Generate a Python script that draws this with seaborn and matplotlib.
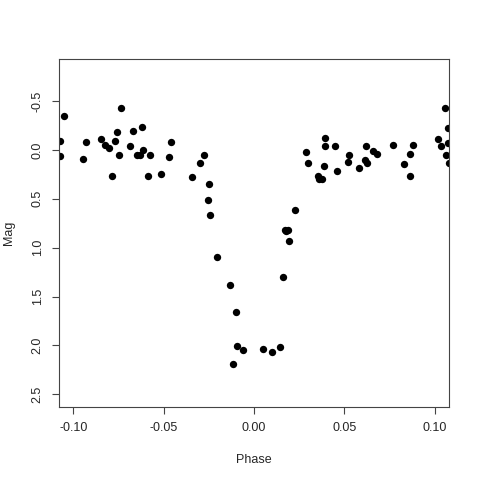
import pandas as pd
import seaborn as sns
import matplotlib
matplotlib.use('Agg')
import matplotlib.pyplot as plt

# phase / magnitude
phase = [-0.1072, -0.1072, -0.1050, -0.0945, -0.0928, -0.0849, -0.0825, -0.0805,
         -0.0785, -0.0768, -0.0761, -0.0748, -0.0736, -0.0685, -0.0669, -0.0648,
         -0.0634, -0.0620, -0.0615, -0.0586, -0.0575, -0.0514, -0.0470, -0.0457,
         -0.0346, -0.0298, -0.0278, -0.0247, -0.0252, -0.0245, -0.0206, -0.0131,
         -0.0101, -0.0096, -0.0059, -0.0116, 0.0050, 0.0101, 0.0144, 0.0162,
         0.0170, 0.0177, 0.0190, 0.0192, 0.0227, 0.0289, 0.0298, 0.0394,
         0.0394, 0.0388, 0.0355, 0.0359, 0.0377, 0.0451, 0.0459, 0.0525,
         0.0521, 0.0582, 0.0620, 0.0613, 0.0626, 0.0661, 0.0683, 0.0768,
         0.0829, 0.0862, 0.0862, 0.0882, 0.1020, 0.1033, 0.1059, 0.1076,
         0.1074, 0.1066, 0.1079]
mag = [-0.094, 0.058, -0.352, 0.091, -0.084, -0.112, -0.048, -0.017,
       0.267, -0.094, -0.183, 0.051, -0.426, -0.041, -0.190, 0.048,
       0.048, -0.240, -0.003, 0.264, 0.051, 0.246, 0.074, -0.081,
       0.271, 0.132, 0.051, 0.352, 0.514, 0.669, 1.098, 1.386,
       1.663, 2.011, 2.046, 2.188, 2.042, 2.066, 2.021, 1.301,
       0.821, 0.827, 0.821, 0.933, 0.619, 0.020, 0.135, -0.125,
       -0.044, 0.159, 0.261, 0.301, 0.297, -0.041, 0.216, 0.054,
       0.125, 0.183, -0.038, 0.104, 0.132, 0.013, 0.041, -0.051,
       0.145, 0.044, 0.267, -0.054, -0.109, -0.044, -0.433, -0.223,
       -0.074, 0.048, 0.135]

x_ticks = [-0.10, -0.05, 0.00, 0.05, 0.10]
x_labels = ['-0.10', '-0.05', '0.00', '0.05', '0.10']
y_ticks = [-0.5, 0.0, 0.5, 1.0, 1.5, 2.0, 2.5]
y_labels = ['-0.5', '0.0', '0.5', '1.0', '1.5', '2.0', '2.5']

df = pd.DataFrame({'Phase': phase, 'Mag': mag})

sns.set_style('white')
plt.rcParams['font.family'] = ['Liberation Sans', 'DejaVu Sans']

fig = plt.figure(figsize=(4.8, 4.8), dpi=100)
ax = fig.add_axes([0.1229, 0.152, 0.8125, 0.725])
sns.scatterplot(data=df, x='Phase', y='Mag', color='black', s=28,
                linewidth=0, ax=ax, clip_on=True)

ax.set_xlim(-0.108, 0.108)
ax.set_ylim(2.632, -0.932)
ax.set_xticks(x_ticks)
ax.set_xticklabels(x_labels)
ax.set_yticks(y_ticks)
ax.set_yticklabels(y_labels, rotation=90, va='center')
ax.tick_params(direction='out', length=5, width=0.8, color='#444444',
               labelsize=9, pad=6, bottom=True, left=True)
for s in ax.spines.values():
    s.set_color('#444444')
    s.set_linewidth(0.8)
ax.set_xlabel('Phase', fontsize=9, labelpad=14)
ax.set_ylabel('Mag', fontsize=9, labelpad=12)

plt.savefig('out.png', dpi=100)
